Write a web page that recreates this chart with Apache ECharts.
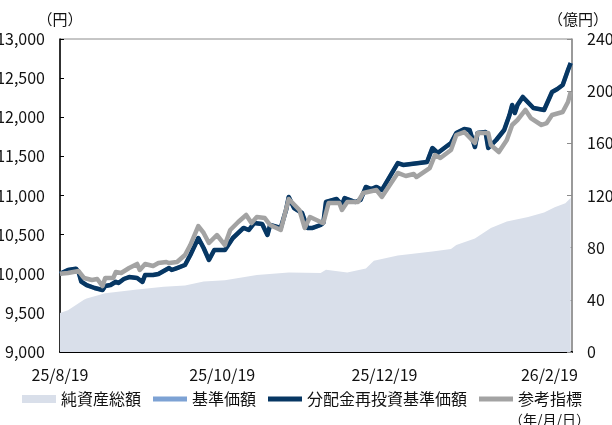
<!DOCTYPE html>
<html>
<head>
<meta charset="utf-8">
<script src="https://cdn.jsdelivr.net/npm/echarts@6/dist/echarts.min.js"></script>
<style>
  html, body { margin: 0; padding: 0; background: #fff; }
  #chart { width: 612px; height: 425px; }
</style>
</head>
<body>
<div id="chart"></div>
<script>
// 分配金再投資基準価額（円）
const navData = [
  ['2025-08-19', 10000], ['2025-08-22', 10048], ['2025-08-25', 10065], ['2025-08-26', 10020],
  ['2025-08-27', 9900], ['2025-08-29', 9856], ['2025-09-01', 9818], ['2025-09-04', 9792],
  ['2025-09-05', 9843], ['2025-09-07', 9856], ['2025-09-09', 9898], ['2025-09-10', 9882],
  ['2025-09-12', 9933], ['2025-09-14', 9958], ['2025-09-17', 9946], ['2025-09-19', 9895],
  ['2025-09-20', 9984], ['2025-09-23', 9984], ['2025-09-25', 9997], ['2025-09-29', 10073],
  ['2025-09-30', 10048], ['2025-10-02', 10073], ['2025-10-05', 10112], ['2025-10-07', 10240],
  ['2025-10-10', 10457], ['2025-10-12', 10329], ['2025-10-14', 10176], ['2025-10-16', 10303],
  ['2025-10-20', 10303], ['2025-10-23', 10457], ['2025-10-27', 10585], ['2025-10-29', 10559],
  ['2025-10-31', 10648], ['2025-11-03', 10636], ['2025-11-05', 10495], ['2025-11-06', 10623],
  ['2025-11-10', 10585], ['2025-11-12', 10815], ['2025-11-13', 10981], ['2025-11-15', 10840],
  ['2025-11-18', 10776], ['2025-11-20', 10585], ['2025-11-22', 10585], ['2025-11-25', 10623],
  ['2025-11-26', 10648], ['2025-11-27', 10917], ['2025-12-01', 10955], ['2025-12-03', 10879],
  ['2025-12-04', 10968], ['2025-12-08', 10917], ['2025-12-10', 10943], ['2025-12-12', 11109],
  ['2025-12-14', 11083], ['2025-12-16', 11109], ['2025-12-18', 11070], ['2025-12-24', 11415],
  ['2025-12-26', 11390], ['2025-12-29', 11402], ['2026-01-04', 11428], ['2026-01-06', 11607],
  ['2026-01-08', 11543], ['2026-01-13', 11671], ['2026-01-15', 11799], ['2026-01-18', 11850],
  ['2026-01-20', 11837], ['2026-01-22', 11620], ['2026-01-23', 11799], ['2026-01-26', 11811],
  ['2026-01-27', 11607], ['2026-01-30', 11709], ['2026-02-02', 11837], ['2026-02-04', 12029],
  ['2026-02-05', 12157], ['2026-02-06', 12054], ['2026-02-07', 12157], ['2026-02-09', 12259],
  ['2026-02-13', 12118], ['2026-02-17', 12093], ['2026-02-20', 12323], ['2026-02-22', 12361],
  ['2026-02-24', 12412], ['2026-02-26', 12604], ['2026-02-27', 12693]
];

// 基準価額（分配なしのため再投資基準価額と同じ）
const baseData = navData;

// 参考指標（円換算）
const benchData = [
  ['2025-08-19', 10000], ['2025-08-22', 10010], ['2025-08-26', 10035], ['2025-08-28', 9946],
  ['2025-08-31', 9920], ['2025-09-02', 9933], ['2025-09-04', 9843], ['2025-09-05', 9946],
  ['2025-09-08', 9946], ['2025-09-09', 10022], ['2025-09-11', 10010], ['2025-09-14', 10073],
  ['2025-09-17', 10125], ['2025-09-18', 10048], ['2025-09-20', 10125], ['2025-09-23', 10099],
  ['2025-09-25', 10137], ['2025-09-28', 10150], ['2025-09-29', 10137], ['2025-10-02', 10150],
  ['2025-10-05', 10240], ['2025-10-07', 10367], ['2025-10-10', 10610], ['2025-10-12', 10521],
  ['2025-10-14', 10393], ['2025-10-17', 10495], ['2025-10-20', 10367], ['2025-10-22', 10559],
  ['2025-10-25', 10661], ['2025-10-28', 10751], ['2025-10-30', 10648], ['2025-11-01', 10725],
  ['2025-11-04', 10712], ['2025-11-06', 10623], ['2025-11-10', 10559], ['2025-11-13', 10955],
  ['2025-11-17', 10815], ['2025-11-19', 10585], ['2025-11-21', 10725], ['2025-11-25', 10661],
  ['2025-11-26', 10648], ['2025-11-28', 10904], ['2025-12-02', 10904], ['2025-12-03', 10815],
  ['2025-12-05', 10917], ['2025-12-09', 10917], ['2025-12-11', 11032], ['2025-12-16', 11070],
  ['2025-12-18', 10981], ['2025-12-24', 11288], ['2025-12-27', 11249], ['2025-12-30', 11275],
  ['2025-12-31', 11236], ['2026-01-05', 11351], ['2026-01-07', 11518], ['2026-01-09', 11479],
  ['2026-01-13', 11581], ['2026-01-15', 11773], ['2026-01-18', 11811], ['2026-01-22', 11671],
  ['2026-01-23', 11799], ['2026-01-27', 11799], ['2026-01-28', 11645], ['2026-01-31', 11556],
  ['2026-02-03', 11709], ['2026-02-05', 11901], ['2026-02-07', 11965], ['2026-02-10', 12093],
  ['2026-02-12', 11990], ['2026-02-16', 11901], ['2026-02-18', 11926], ['2026-02-20', 12029],
  ['2026-02-24', 12067], ['2026-02-26', 12195], ['2026-02-27', 12323]
];

// 純資産総額（億円）
const assetData = [
  ['2025-08-19', 30], ['2025-08-22', 32], ['2025-08-25', 36], ['2025-08-28', 40],
  ['2025-08-29', 41], ['2025-09-05', 45], ['2025-09-17', 48], ['2025-09-27', 50],
  ['2025-10-05', 51], ['2025-10-12', 54], ['2025-10-20', 55], ['2025-11-01', 59],
  ['2025-11-13', 61], ['2025-11-25', 60.5], ['2025-11-27', 63], ['2025-12-05', 61],
  ['2025-12-12', 64], ['2025-12-15', 70], ['2025-12-24', 74], ['2026-01-06', 77],
  ['2026-01-13', 79], ['2026-01-15', 82], ['2026-01-22', 87], ['2026-01-28', 95],
  ['2026-02-03', 100], ['2026-02-11', 103.5], ['2026-02-17', 107], ['2026-02-21', 111],
  ['2026-02-25', 114], ['2026-02-27', 118]
];

const xStart = '2025-08-19';
const xEnd = '2026-02-27 12:00';
const xTickDates = ['2025-08-19', '2025-10-19', '2025-12-19', '2026-02-19'];

const colors = {
  asset: '#d9dfea',
  base: '#7da2d4',
  nav: '#073763',
  bench: '#a3a3a3'
};

const font = "'Liberation Sans Narrow', 'Noto Sans CJK JP', sans-serif";
const lineIcon = 'path://M0,0H34V5H0Z';

function toTime(s) {
  return +echarts.time.parse(s);
}
function withTime(rows) {
  return rows.map(function (r) { return [toTime(r[0]), r[1]]; });
}

let chartDom = document.getElementById('chart');
let myChart = echarts.init(chartDom);

let option = {
  animation: false,
  textStyle: { fontFamily: font },
  grid: {
    left: 60,
    right: 40,
    top: 39,
    bottom: 73,
    containLabel: false,
    outerBoundsMode: 'none',
    show: true,
    borderColor: '#8c8c8c',
    borderWidth: 1
  },
  legend: {
    left: 17,
    top: 386,
    itemWidth: 34,
    itemHeight: 8,
    itemGap: 12,
    textStyle: { fontSize: 16, color: '#111', fontFamily: font },
    data: [
      { name: '純資産総額', icon: 'rect' },
      { name: '基準価額', icon: lineIcon },
      { name: '分配金再投資基準価額', icon: lineIcon },
      { name: '参考指標', icon: lineIcon }
    ]
  },
  xAxis: {
    type: 'value',
    min: toTime(xStart),
    max: toTime(xEnd),
    splitLine: { show: false },
    axisLine: { lineStyle: { color: '#000', width: 2 } },
    axisTick: {
      inside: true,
      length: 5,
      lineStyle: { color: '#000' },
      customValues: xTickDates.map(toTime)
    },
    axisLabel: {
      fontSize: 16,
      color: '#111',
      margin: 15,
      showMinLabel: true,
      customValues: xTickDates.map(toTime),
      formatter: function (v) {
        const d = new Date(v);
        return (d.getFullYear() % 100) + '/' + (d.getMonth() + 1) + '/' + d.getDate();
      }
    }
  },
  yAxis: [
    {
      type: 'value',
      name: '（円）',
      nameLocation: 'end',
      nameGap: 12,
      nameTextStyle: { fontSize: 15, color: '#111', fontFamily: 'Noto Sans CJK JP' },
      min: 9000,
      max: 13000,
      interval: 500,
      position: 'left',
      splitLine: { show: false },
      axisLine: { show: true, lineStyle: { color: '#000', width: 1.5 } },
      axisTick: { show: true, inside: true, length: 4, lineStyle: { color: '#000' } },
      axisLabel: { fontSize: 16, color: '#111', margin: 15 }
    },
    {
      type: 'value',
      name: '（億円）',
      nameLocation: 'end',
      nameGap: 12,
      nameTextStyle: {
        fontSize: 15,
        color: '#111',
        fontFamily: 'Noto Sans CJK JP',
        padding: [0, 0, 0, 12]
      },
      min: 0,
      max: 240,
      interval: 40,
      position: 'right',
      splitLine: { show: false },
      axisLine: { show: true, lineStyle: { color: '#8c8c8c', width: 1.5 } },
      axisTick: { show: true, inside: true, length: 5, lineStyle: { color: '#8c8c8c' } },
      axisLabel: { fontSize: 16, color: '#111', margin: 15 }
    }
  ],
  series: [
    {
      name: '純資産総額',
      type: 'line',
      yAxisIndex: 1,
      symbol: 'none',
      itemStyle: { color: colors.asset },
      lineStyle: { width: 0 },
      areaStyle: { color: colors.asset, opacity: 1 },
      data: withTime(assetData)
    },
    {
      name: '基準価額',
      type: 'line',
      symbol: 'none',
      itemStyle: { color: colors.base },
      lineStyle: { width: 4, color: colors.base },
      data: withTime(baseData)
    },
    {
      name: '分配金再投資基準価額',
      type: 'line',
      symbol: 'none',
      itemStyle: { color: colors.nav },
      lineStyle: { width: 4.5, color: colors.nav, join: 'round' },
      data: withTime(navData)
    },
    {
      name: '参考指標',
      type: 'line',
      symbol: 'none',
      itemStyle: { color: colors.bench },
      lineStyle: { width: 4.5, color: colors.bench, join: 'round' },
      data: withTime(benchData)
    }
  ],
  graphic: [
    {
      type: 'text',
      right: 22,
      top: 413,
      style: { text: '（年/月/日）', fontSize: 14, fill: '#111', fontFamily: 'Noto Sans CJK JP' }
    }
  ]
};

option && myChart.setOption(option);
</script>
</body>
</html>
